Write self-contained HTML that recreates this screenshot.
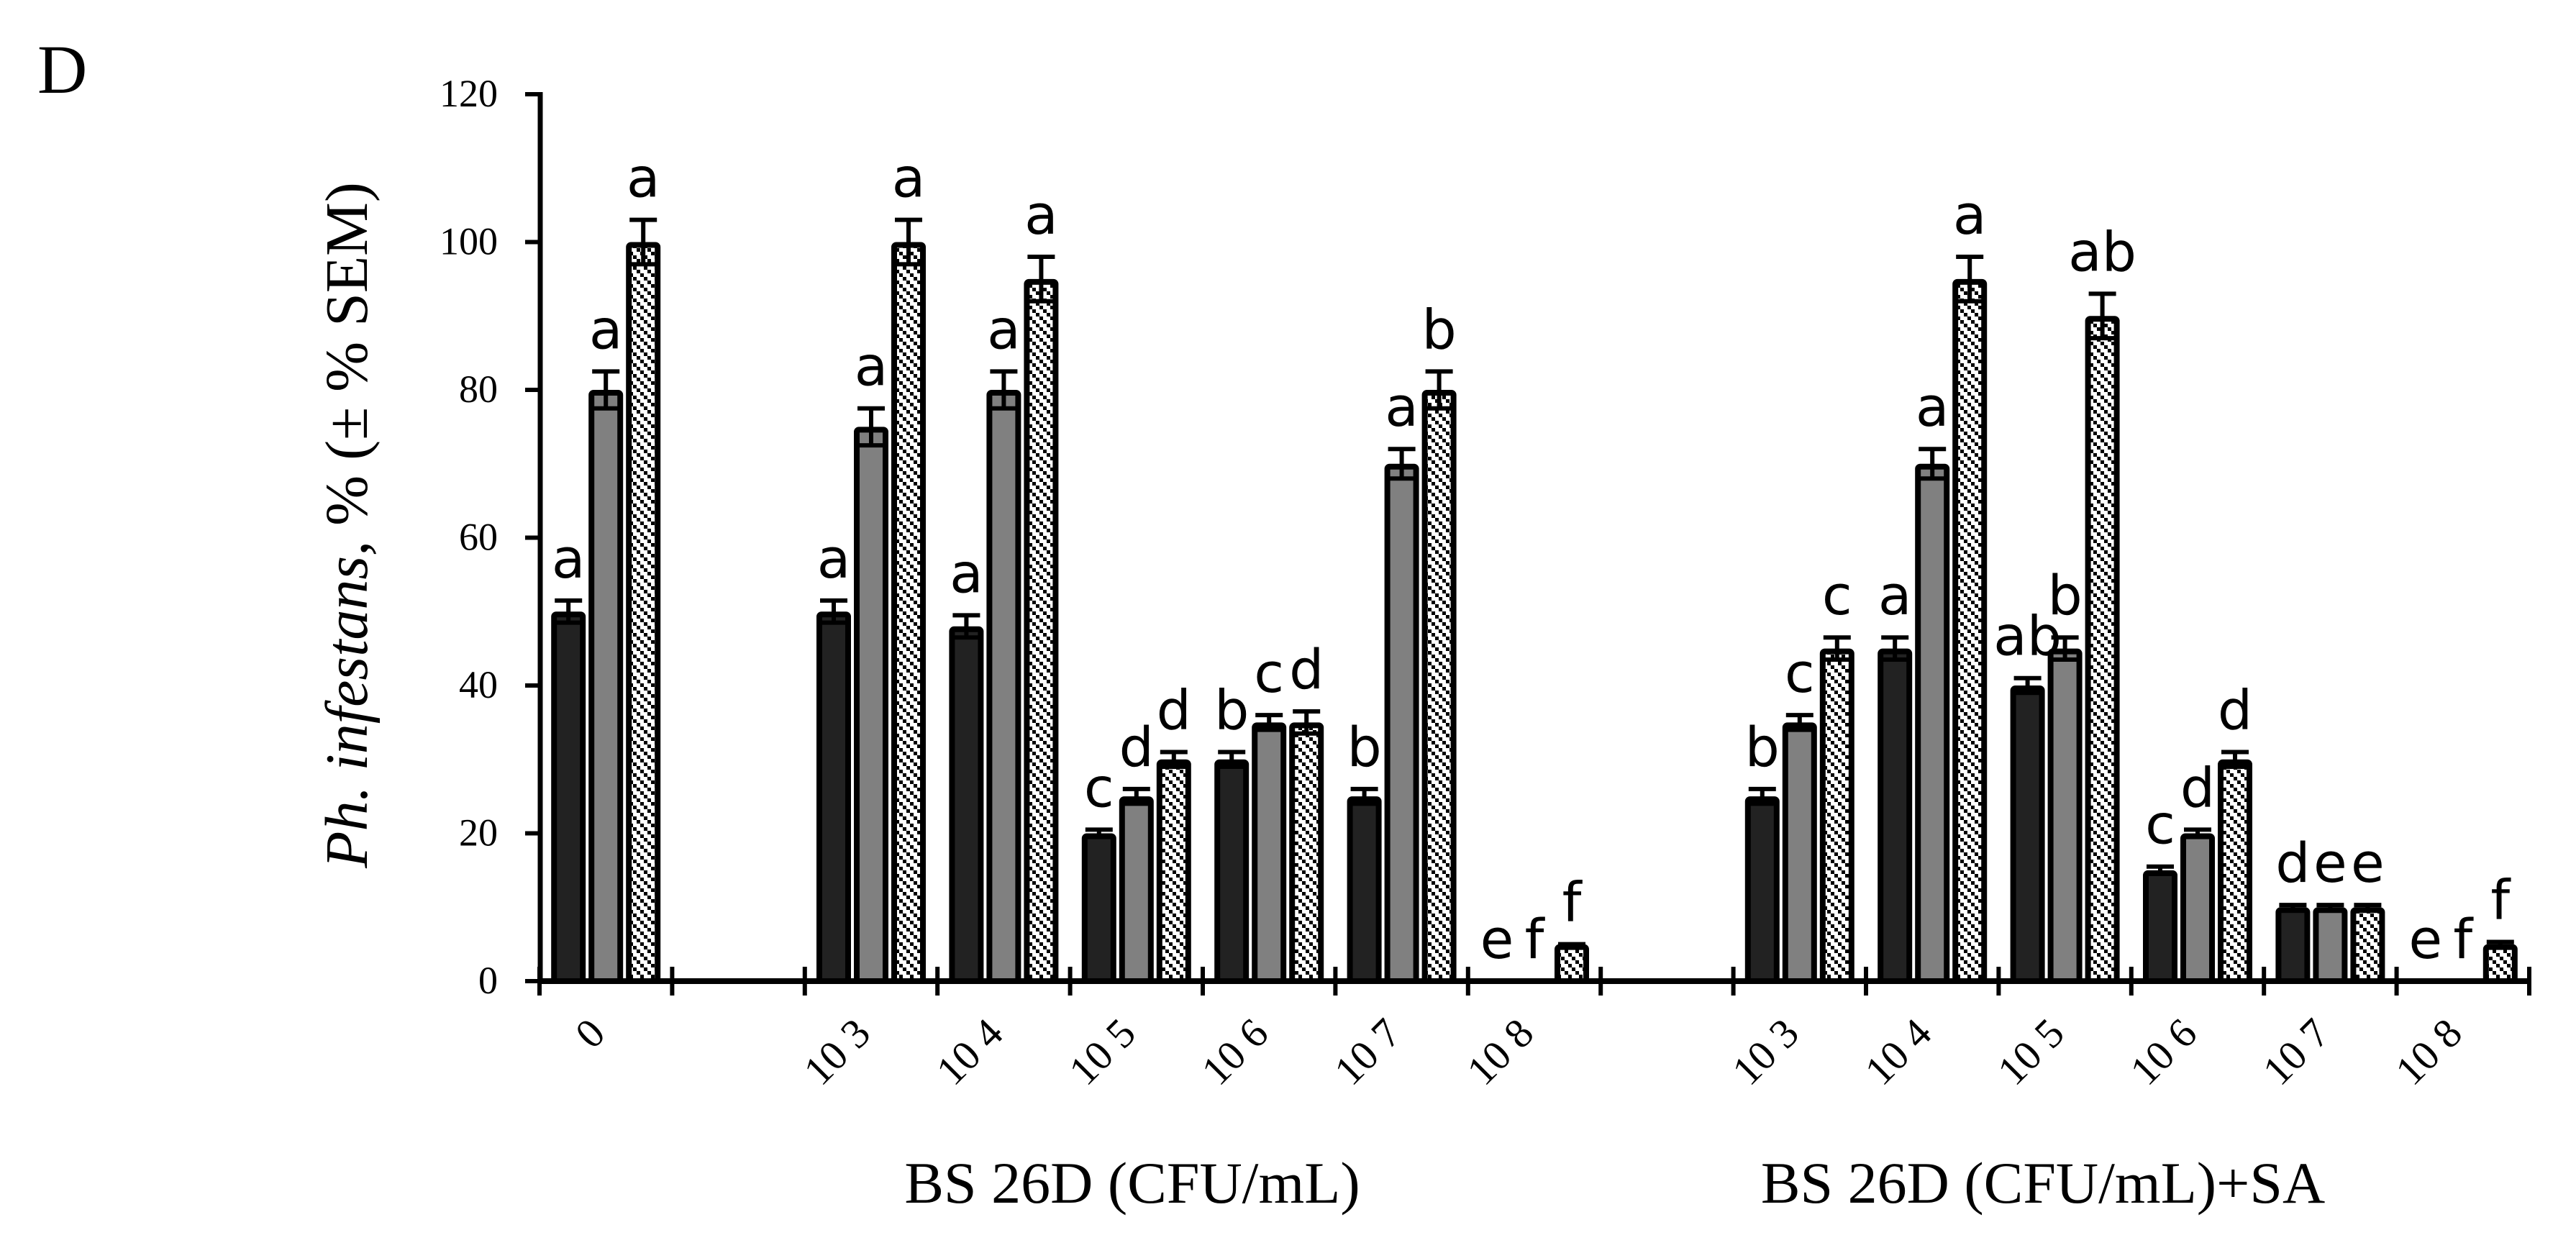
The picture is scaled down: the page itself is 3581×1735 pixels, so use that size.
<!DOCTYPE html>
<html><head><meta charset="utf-8"><style>
html,body{margin:0;padding:0;background:#fff;}
svg{display:block;}
</style></head><body>
<svg id="chart" width="3581" height="1735" viewBox="0 0 3581 1735" xmlns="http://www.w3.org/2000/svg">
<defs>
<pattern id="chk" patternUnits="userSpaceOnUse" width="15" height="15">
<rect width="15" height="15" fill="#fff"/>
<rect x="0" y="0" width="5" height="5" fill="#000"/>
<rect x="5" y="5" width="5" height="5" fill="#000"/>
<rect x="10" y="10" width="5" height="5" fill="#000"/>
</pattern>
</defs>
<text x="52" y="129" font-family="Liberation Serif, serif" font-size="96">D</text>
<g id="yaxis"></g>
<text transform="translate(510,730) rotate(-90)" text-anchor="middle" font-family="Liberation Serif, serif" font-size="84"><tspan font-style="italic">Ph. infestans,</tspan> % (± % SEM)</text>
<g id="bars"></g>
<g id="xaxis"></g>
<text x="1574" y="1672" text-anchor="middle" font-family="Liberation Serif, serif" font-size="82">BS 26D (CFU/mL)</text>
<text x="2840" y="1672" text-anchor="middle" font-family="Liberation Serif, serif" font-size="82">BS 26D (CFU/mL)+SA</text>
</svg>
<script>
const categories = ["0","","10 3","10 4","10 5","10 6","10 7","10 8","","10 3","10 4","10 5","10 6","10 7","10 8"];
const series1 = [50,null,50,48,20,30,25,0,null,25,45,40,15,10,0];
const series2 = [80,null,75,80,25,35,70,0,null,35,70,45,20,10,0];
const series3 = [100,null,100,95,30,35,80,5,null,45,95,90,30,10,5];
const err1 = [1.5,null,1.5,1.5,0.5,1,1,0,null,1,1.5,1,0.5,0.3,0];
const err2 = [2.5,null,2.5,2.5,1,1,2,0,null,1,2,1.5,0.5,0.3,0];
const err3 = [3,null,3,3,1,1.5,2.5,0,null,1.5,3,3,1,0.3,0.3];
const letters1 = ["a","","a","a","c","b","b","e","","b","a","ab","c","d","e"];
const letters2 = ["a","","a","a","d","c","a","f","","c","a","b","d","e","f"];
const letters3 = ["a","","a","a","d","d","b","f","","c","a","ab","d","e","f"];
const yTicks = [0,20,40,60,80,100,120];

const NS="http://www.w3.org/2000/svg";
const X0=750, STEP=184.4, Y0=1364, Y120=131;
function y(v){return Y0-(v/120)*(Y0-Y120);}
function xc(i){return X0+STEP*(i+0.5);}
function mk(tag,attrs,parent){const e=document.createElementNS(NS,tag);for(const k in attrs)e.setAttribute(k,attrs[k]);parent.appendChild(e);return e;}

const ya=document.getElementById('yaxis');
const yl=mk('line',{x1:751,y1:Y120-3,x2:751,y2:Y0+4,stroke:'#000','stroke-width':7},ya);


yTicks.forEach(t=>{
  const tk=mk('line',{x1:730,y1:y(t),x2:752,y2:y(t),stroke:'#000','stroke-width':6},ya);
  
  
  const tl=mk('text',{x:692,y:y(t)+17,'text-anchor':'end','font-family':'Liberation Serif, serif','font-size':54},ya);
  tl.textContent=t;
  
  
});

const xa=document.getElementById('xaxis');
const xl=mk('line',{x1:748,y1:Y0,x2:X0+STEP*categories.length+3,y2:Y0,stroke:'#000','stroke-width':8},xa);


for(let i=0;i<=categories.length;i++){
  const tk=mk('line',{x1:X0+STEP*i,y1:Y0-20,x2:X0+STEP*i,y2:Y0+20,stroke:'#000','stroke-width':6},xa);
  
  
}
categories.forEach((c,i)=>{
  if(!c) return;
  const cx=xc(i)+2, cy=1440;
  const t=mk('text',{x:cx,y:cy,'text-anchor':'end','font-family':'Liberation Serif, serif','font-size':58,transform:`rotate(-45 ${cx} ${cy})`},xa);
  t.textContent=c;
  
  
});

const bg=document.getElementById('bars');
const seriesList=[series1,series2,series3];
const errList=[err1,err2,err3];
const letList=[letters1,letters2,letters3];
const fills=['#222222','#808080','url(#chk)'];
const offs=[-52,0,52];
const BW=48;
categories.forEach((c,i)=>{
  if(!c) return;
  for(let s=0;s<3;s++){
    const v=seriesList[s][i], e=errList[s][i];
    const cx=xc(i)+offs[s];
    if(v>0){
      const r=mk('rect',{x:cx-BW/2+4,y:y(v)+4,width:BW-8,height:Math.max(0,Y0-y(v)-4),fill:fills[s],stroke:'#000','stroke-width':8,rx:3},bg);
      
      
      const eb=mk('path',{d:`M${cx},${y(v+e)}V${y(v-e)}M${cx-19},${y(v+e)}H${cx+19}M${cx-19},${y(v-e)}H${cx+19}`,stroke:'#000','stroke-width':6,fill:'none'},bg);
      
      
    }
    const lt=mk('text',{x:cx,y:y(v+e)-32,'text-anchor':'middle','font-family':'DejaVu Sans, sans-serif','font-size':76},bg);
    lt.textContent=letList[s][i];
    
    
  }
});
</script>
</body></html>
